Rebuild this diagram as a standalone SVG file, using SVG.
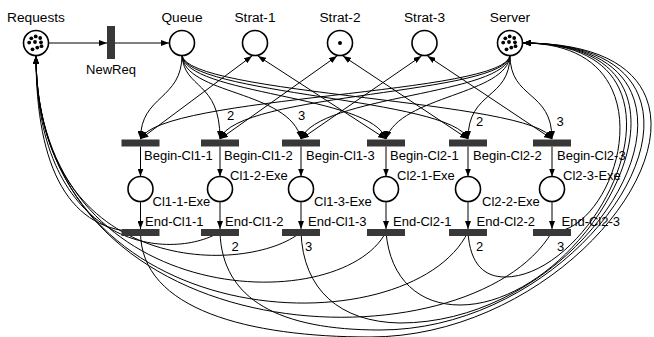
<svg xmlns="http://www.w3.org/2000/svg" width="654" height="337" viewBox="0 0 654 337">
<defs>
<marker id="ah" markerUnits="userSpaceOnUse" markerWidth="8" markerHeight="6" viewBox="0 0 8 6" refX="8" refY="3" orient="auto-start-reverse"><path d="M0,0 L8,3 L0,6 z" fill="#000"/></marker>
</defs>
<style>
.pl{fill:#fff;stroke:#000;stroke-width:1.6}
.tr{fill:#383838}
.tk{fill:#000}
.arc{fill:none;stroke:#000;stroke-width:1;marker-end:url(#ah)}
.dbl{marker-start:url(#ah)}
text{font-family:"Liberation Sans",Arial,sans-serif;font-size:13px;fill:#000}
.top{font-size:13.7px;text-anchor:middle}
</style>
<rect width="654" height="337" fill="#fff"/>
<g id="connectors">
<path class="arc" d="M49,43 L107,43"/>
<path class="arc" d="M115,43 L169,43"/>
<path class="arc" d="M182,55 C182,100 140.5,95 140.5,139"/>
<path class="arc" d="M182,55 C184,90 220,80 220,139"/>
<path class="arc" d="M182,55 C184,95 290,90 301,139"/>
<path class="arc" d="M182,55 C185,95 372,95 386,139"/>
<path class="arc" d="M182,55 C185,95 452,98 468,139"/>
<path class="arc" d="M182,55 C185,95 536,100 552,139"/>
<path class="arc" d="M510,55 C508,95 160,95 140.5,139"/>
<path class="arc" d="M510,55 C508,95 236,92 220,139"/>
<path class="arc" d="M510,55 C508,95 318,95 301,139"/>
<path class="arc" d="M510,55 C508,95 400,95 386,139"/>
<path class="arc" d="M510,55 C510,100 468,90 468,139"/>
<path class="arc" d="M510,55 C510,100 552,90 552,139"/>
<path class="arc dbl" d="M252,56 L140.5,139"/>
<path class="arc dbl" d="M258,56 L386,139"/>
<path class="arc dbl" d="M337,56 L220,139"/>
<path class="arc dbl" d="M343,56 L468,139"/>
<path class="arc dbl" d="M421.5,56 L301,139"/>
<path class="arc dbl" d="M427.5,56 L552,139"/>
<path class="arc" d="M140.5,146.5 L140.5,176.5"/>
<path class="arc" d="M220,146.5 L220,176.5"/>
<path class="arc" d="M301,146.5 L301,176.5"/>
<path class="arc" d="M386,146.5 L386,176.5"/>
<path class="arc" d="M468,146.5 L468,176.5"/>
<path class="arc" d="M552,146.5 L552,176.5"/>
<path class="arc" d="M140.5,201.5 L140.5,229"/>
<path class="arc" d="M220,201.5 L220,229"/>
<path class="arc" d="M301,201.5 L301,229"/>
<path class="arc" d="M386,201.5 L386,229"/>
<path class="arc" d="M468,201.5 L468,229"/>
<path class="arc" d="M552,201.5 L552,229"/>
<path class="arc" d="M140.5,232 C70,232 36,170 36,56"/>
<path class="arc" d="M220,232 C170,262 36,250 36,56"/>
<path class="arc" d="M301,232 C250,275 36,280 36,56"/>
<path class="arc" d="M386,232 C340,320 36,310 36,56"/>
<path class="arc" d="M468,232 C410,350 36,340 36,56"/>
<path class="arc" d="M552,232 C470,370 36,360 36,56"/>
<path class="arc" d="M140.5,232 C140.5,310 250,337 370,337 C600,337 785,43 523,43"/>
<path class="arc" d="M220,232 C222,300 280,330 380,330 C600,330 768,43 523,43"/>
<path class="arc" d="M301,232 C303,290 340,322 400,323 C600,323 752,43 523,43"/>
<path class="arc" d="M386,232 C390,280 420,305 460,305 C590,305 736,43 523,43"/>
<path class="arc" d="M468,232 C470,265 485,277 505,277 C600,277 714,43 523,43"/>
<path class="arc" d="M552,232 C618,232 676,43 523,43"/>
<text x="227" y="119.5">2</text>
<text x="298" y="119.5">3</text>
<text x="476" y="126">2</text>
<text x="556.5" y="126">3</text>
<text x="231.5" y="251">2</text>
<text x="305" y="251">3</text>
<text x="476" y="251">2</text>
<text x="557" y="251">3</text>
</g>
<g id="Requests">
<circle class="pl" cx="36" cy="43" r="12.5"/>
<g class="tk">
<circle cx="31.3" cy="38.3" r="1.9"/><circle cx="35.7" cy="36.4" r="1.9"/><circle cx="40.2" cy="38" r="1.9"/>
<circle cx="29.2" cy="42.6" r="1.9"/><circle cx="35" cy="42" r="1.9"/><circle cx="41" cy="42.3" r="1.9"/>
<circle cx="32.5" cy="49.3" r="1.9"/><circle cx="37.3" cy="47.6" r="1.9"/><circle cx="41.5" cy="46.2" r="1.9"/>
</g>
<text class="top" x="36" y="22">Requests</text>
</g>
<g id="NewReq">
<rect class="tr" x="107" y="26" width="8" height="33"/>
<text x="111" y="74" text-anchor="middle">NewReq</text>
</g>
<g id="Queue">
<circle class="pl" cx="182" cy="43" r="12.5"/>
<text class="top" x="182" y="22">Queue</text>
</g>
<g id="Strat-1">
<circle class="pl" cx="255" cy="43" r="12.5"/>
<text class="top" x="255" y="22">Strat-1</text>
</g>
<g id="Strat-2">
<circle class="pl" cx="340" cy="43" r="12.5"/>
<circle class="tk" cx="340" cy="43" r="2"/>
<text class="top" x="340" y="22">Strat-2</text>
</g>
<g id="Strat-3">
<circle class="pl" cx="424.5" cy="43" r="12.5"/>
<text class="top" x="424.5" y="22">Strat-3</text>
</g>
<g id="Server">
<circle class="pl" cx="510" cy="43" r="12.5"/>
<g class="tk">
<circle cx="505.3" cy="38.3" r="1.9"/><circle cx="509.7" cy="36.4" r="1.9"/><circle cx="514.2" cy="38" r="1.9"/>
<circle cx="503.2" cy="42.6" r="1.9"/><circle cx="509" cy="42" r="1.9"/><circle cx="515" cy="42.3" r="1.9"/>
<circle cx="506.5" cy="49.3" r="1.9"/><circle cx="511.3" cy="47.6" r="1.9"/><circle cx="515.5" cy="46.2" r="1.9"/>
</g>
<text class="top" x="510" y="22">Server</text>
</g>
<g id="Begin-Cl1-1"><rect class="tr" x="121.5" y="139.5" width="38" height="7"/><text x="144" y="160">Begin-Cl1-1</text></g>
<g id="Begin-Cl1-2"><rect class="tr" x="201" y="139.5" width="38" height="7"/><text x="224" y="160">Begin-Cl1-2</text></g>
<g id="Begin-Cl1-3"><rect class="tr" x="282" y="139.5" width="38" height="7"/><text x="306" y="160">Begin-Cl1-3</text></g>
<g id="Begin-Cl2-1"><rect class="tr" x="367" y="139.5" width="38" height="7"/><text x="390" y="160">Begin-Cl2-1</text></g>
<g id="Begin-Cl2-2"><rect class="tr" x="449" y="139.5" width="38" height="7"/><text x="473" y="160">Begin-Cl2-2</text></g>
<g id="Begin-Cl2-3"><rect class="tr" x="533" y="139.5" width="38" height="7"/><text x="557" y="160">Begin-Cl2-3</text></g>
<g id="Cl1-1-Exe"><circle class="pl" cx="140.5" cy="189" r="12.5"/><text x="152.5" y="205.5">Cl1-1-Exe</text></g>
<g id="Cl1-2-Exe"><circle class="pl" cx="220" cy="189" r="12.5"/><text x="230" y="179.5">Cl1-2-Exe</text></g>
<g id="Cl1-3-Exe"><circle class="pl" cx="301" cy="189" r="12.5"/><text x="314" y="205.5">Cl1-3-Exe</text></g>
<g id="Cl2-1-Exe"><circle class="pl" cx="386" cy="189" r="12.5"/><text x="397" y="179.5">Cl2-1-Exe</text></g>
<g id="Cl2-2-Exe"><circle class="pl" cx="468" cy="189" r="12.5"/><text x="482" y="205.5">Cl2-2-Exe</text></g>
<g id="Cl2-3-Exe"><circle class="pl" cx="552" cy="189" r="12.5"/><text x="563" y="179.5">Cl2-3-Exe</text></g>
<g id="End-Cl1-1"><rect class="tr" x="121.5" y="229" width="38" height="7"/><text x="145" y="226">End-Cl1-1</text></g>
<g id="End-Cl1-2"><rect class="tr" x="201" y="229" width="38" height="7"/><text x="225" y="226">End-Cl1-2</text></g>
<g id="End-Cl1-3"><rect class="tr" x="282" y="229" width="38" height="7"/><text x="308" y="226">End-Cl1-3</text></g>
<g id="End-Cl2-1"><rect class="tr" x="367" y="229" width="38" height="7"/><text x="393" y="226">End-Cl2-1</text></g>
<g id="End-Cl2-2"><rect class="tr" x="449" y="229" width="38" height="7"/><text x="476.5" y="226">End-Cl2-2</text></g>
<g id="End-Cl2-3"><rect class="tr" x="533" y="229" width="38" height="7"/><text x="561.5" y="226">End-Cl2-3</text></g>
</svg>
